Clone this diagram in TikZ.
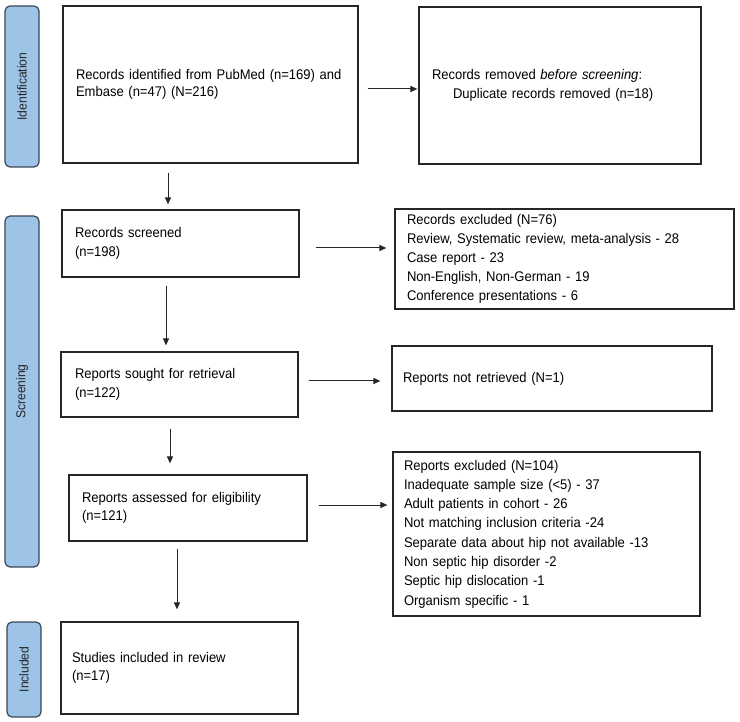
\documentclass[tikz,border=0pt]{standalone}
\usepackage{fontspec}
\setmainfont{Liberation Sans}[FakeStretch=0.93]
\usetikzlibrary{arrows.meta,calc}
\definecolor{lblfill}{HTML}{9DC3E6}
\definecolor{lbldraw}{HTML}{3A4756}
\definecolor{linec}{HTML}{262626}
\begin{document}
\begin{tikzpicture}[x=1pt,y=-1pt,
  box/.style={draw=linec, line width=1.2pt, rectangle, align=left, inner ysep=0pt,
    font=\fontsize{14}{18.5}\selectfont, text=black},
  lbl/.style={draw=lbldraw, fill=lblfill, rounded corners=5pt, line width=1.2pt,
    rotate=90, font=\fontsize{13}{15}\selectfont, inner sep=0pt, text=black!85},
  arr/.style={draw=linec, line width=1pt, -{Triangle[length=7pt,width=6pt]}}]
\useasboundingbox (0,0) rectangle (740,722);

% stage labels
\node[lbl, minimum width=161pt, minimum height=34pt] (L1) at (22,86.5) {Identification};
\node[lbl, minimum width=351pt, minimum height=34pt] (L2) at (22,391.5) {Screening};
\node[lbl, minimum width=95pt, minimum height=34pt] (L3) at (24,669.5) {Included};

% boxes
\node[box, minimum height=157pt, text width=269pt, inner xsep=13pt, font=\fontsize{14}{17}\selectfont] (id) at (210.5,84.5)
  {Records identified from PubMed (n=169) and\\Embase (n=47) (N=216)};
\node[box, minimum height=157pt, text width=256pt, inner xsep=13pt] (rem) at (560,85.5)
  {Records removed \textit{before screening}:\\\hspace*{21pt}Duplicate records removed (n=18)};
\node[box, minimum height=67pt, text width=211pt, inner xsep=13pt] (scr) at (180.5,243.5)
  {Records screened\\(n=198)};
\node[box, minimum height=100pt, text width=315pt, inner xsep=12pt, font=\fontsize{14}{19}\selectfont] (exa) at (564.5,259)
  {Records excluded (N=76)\\Review, Systematic review, meta-analysis - 28\\Case report - 23\\Non-English, Non-German - 19\\Conference presentations - 6};
\node[box, minimum height=65pt, text width=209pt, inner xsep=14pt] (sou) at (179.5,384.5)
  {Reports sought for retrieval\\(n=122)};
\node[box, minimum height=65pt, text width=298pt, inner xsep=11pt] (nret) at (552,378.5)
  {Reports not retrieved (N=1)};
\node[box, minimum height=66pt, text width=212pt, inner xsep=13pt] (ass) at (188,508)
  {Reports assessed for eligibility\\(n=121)};
\node[box, minimum height=164pt, text width=285pt, inner xsep=11pt, font=\fontsize{14}{19.3}\selectfont] (exb) at (546.5,534)
  {Reports excluded (N=104)\\Inadequate sample size (<5) - 37\\Adult patients in cohort - 26\\Not matching inclusion criteria -24\\Separate data about hip not available -13\\Non septic hip disorder -2\\Septic hip dislocation -1\\Organism specific - 1};
\node[box, minimum height=92pt, text width=215pt, inner xsep=11pt] (inc) at (179.5,668)
  {Studies included in review\\(n=17)};

% helper coordinates for connector lanes
\coordinate (x1) at (168,0);
\coordinate (x2) at (166,0);
\coordinate (x3) at (170,0);
\coordinate (x4) at (177,0);
\coordinate (y1) at (0,89);
\coordinate (y2) at (0,248);
\coordinate (y3) at (0,381);
\coordinate (y4) at (0,505);

% connectors
\draw[arr, shorten <=9pt, shorten >=5pt] (id.south -| x1) -- (scr.north -| x1);
\draw[arr, shorten <=9pt, shorten >=1pt] (id.east |- y1) -- (rem.west |- y1);
\draw[arr, shorten <=16pt, shorten >=8pt] (scr.east |- y2) -- (exa.west |- y2);
\draw[arr, shorten <=8pt, shorten >=6pt] (scr.south -| x2) -- (sou.north -| x2);
\draw[arr, shorten <=10pt, shorten >=11pt] (sou.east |- y3) -- (nret.west |- y3);
\draw[arr, shorten <=11pt, shorten >=11pt] (sou.south -| x3) -- (ass.north -| x3);
\draw[arr, shorten <=11pt, shorten >=5pt] (ass.east |- y4) -- (exb.west |- y4);
\draw[arr, shorten <=7pt, shorten >=12pt] (ass.south -| x4) -- (inc.north -| x4);
\end{tikzpicture}
\end{document}
